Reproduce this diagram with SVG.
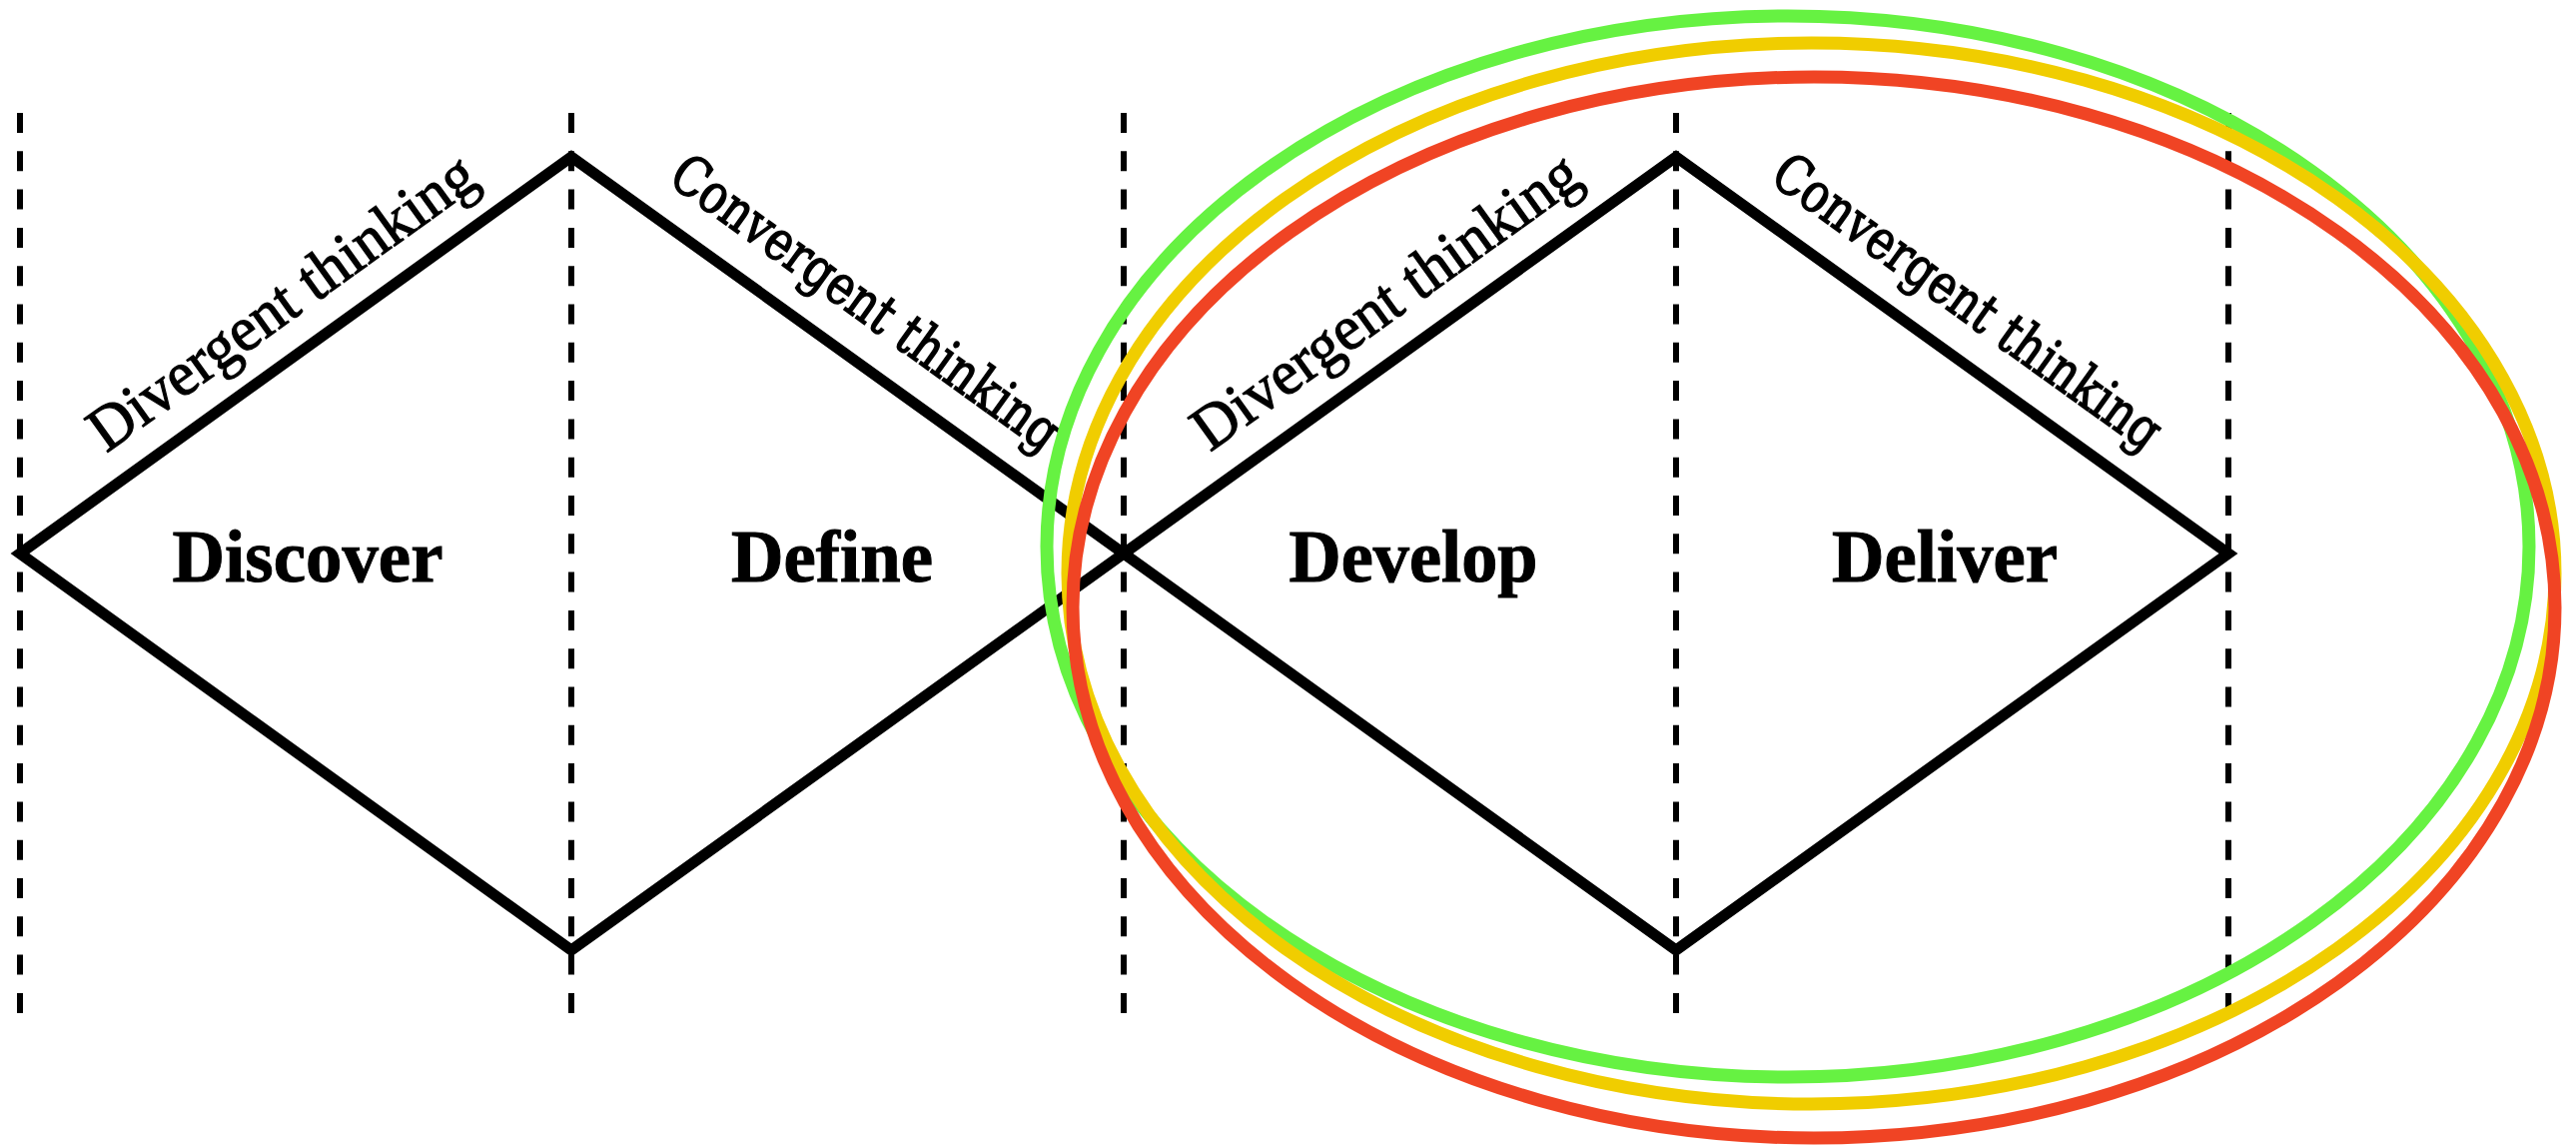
<svg xmlns="http://www.w3.org/2000/svg" width="2579" height="1147" viewBox="0 0 2579 1147">
<style>
.dash{stroke:#000;stroke-width:6;stroke-dasharray:20 18.3;fill:none}
.dia{stroke:#000;stroke-width:11;fill:none;stroke-linejoin:miter}
.phase{font-family:"Liberation Serif","Times New Roman",serif;font-weight:bold;font-size:75px;fill:#000;stroke:#000;stroke-width:1;text-anchor:middle}
.div{font-family:"Liberation Serif","Times New Roman",serif;font-size:63px;fill:#000;stroke:#000;stroke-width:1.2;text-anchor:middle}
.conv{font-family:"DejaVu Serif",serif;font-size:55px;fill:#000;stroke:#000;stroke-width:1.6;text-anchor:middle}
.ring{fill:none;stroke-width:13}
</style>
<rect width="2579" height="1147" fill="#fff"/>
<g id="dividers">
<line class="dash" x1="20" y1="113" x2="20" y2="1014"/>
<line class="dash" x1="572" y1="113" x2="572" y2="1014"/>
<line class="dash" x1="1125" y1="113" x2="1125" y2="1014"/>
<line class="dash" x1="1678" y1="113" x2="1678" y2="1014"/>
<line class="dash" x1="2231" y1="113" x2="2231" y2="1014"/>
</g>
<g id="connectors">
<path class="dia" d="M20,554 L572,157 L1125,554 L572,951 Z"/>
<path class="dia" d="M1125,554 L1678,157 L2231,554 L1678,951 Z"/>
</g>
<g id="edge-labels">
<text class="div" x="294" y="319" transform="rotate(-35.72 294 319)" textLength="462" lengthAdjust="spacingAndGlyphs">Divergent thinking</text>
<text class="conv" x="856" y="318" transform="rotate(35.68 856 318)" textLength="465" lengthAdjust="spacingAndGlyphs">Convergent thinking</text>
<text class="div" x="1399" y="318" transform="rotate(-35.72 1399 318)" textLength="462" lengthAdjust="spacingAndGlyphs">Divergent thinking</text>
<text class="conv" x="1959" y="317" transform="rotate(35.68 1959 317)" textLength="465" lengthAdjust="spacingAndGlyphs">Convergent thinking</text>
</g>
<g id="discover"><text class="phase" x="308" y="582" textLength="271" lengthAdjust="spacingAndGlyphs">Discover</text></g>
<g id="define"><text class="phase" x="833" y="582" textLength="202" lengthAdjust="spacingAndGlyphs">Define</text></g>
<g id="develop"><text class="phase" x="1415" y="582" textLength="249" lengthAdjust="spacingAndGlyphs">Develop</text></g>
<g id="deliver"><text class="phase" x="1947" y="582" textLength="226" lengthAdjust="spacingAndGlyphs">Deliver</text></g>
<g id="highlight-rings">
<ellipse class="ring" cx="1790" cy="547" rx="742" ry="531" stroke="#66f242"/>
<ellipse class="ring" cx="1813.5" cy="574" rx="744.5" ry="531" stroke="#f0cd00"/>
<ellipse class="ring" cx="1816" cy="608" rx="742" ry="531" stroke="#f04424"/>
</g>
</svg>
